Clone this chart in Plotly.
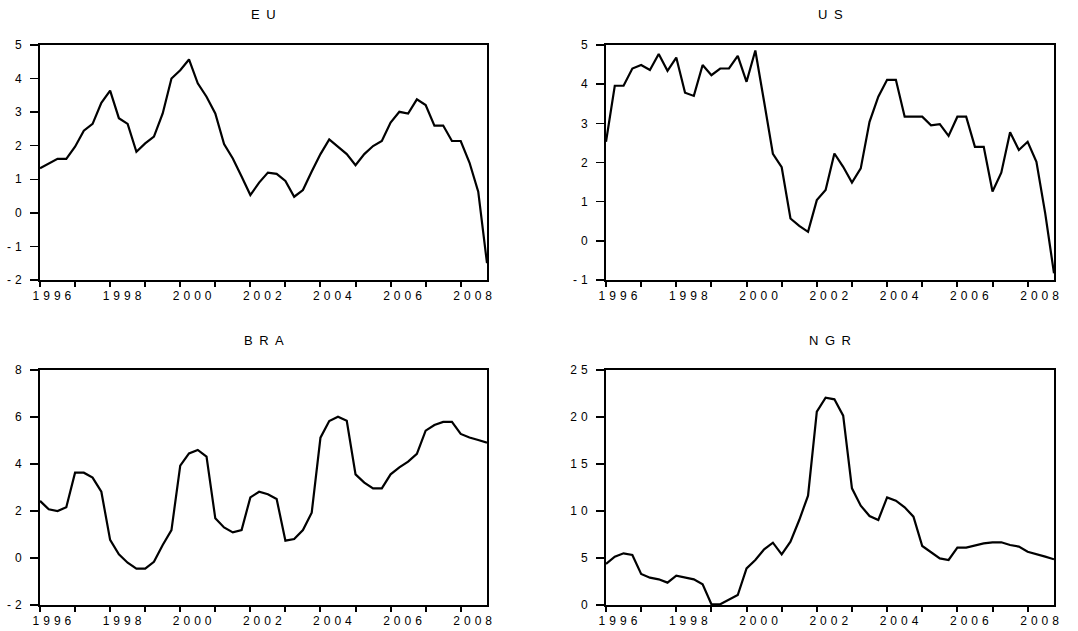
import plotly.graph_objects as go

# Quarterly observations 1996Q1 .. 2008Q4
years = [1996 + q / 4 for q in range(52)]

eu = [1.33, 1.47, 1.61, 1.61, 1.97, 2.45, 2.65, 3.28, 3.64, 2.82,
      2.65, 1.82, 2.07, 2.27, 2.96, 4.00, 4.25, 4.57, 3.86, 3.46,
      2.96, 2.05, 1.62, 1.08, 0.53, 0.90, 1.20, 1.16, 0.95, 0.48,
      0.68, 1.23, 1.75, 2.19, 1.97, 1.75, 1.42, 1.75, 1.99, 2.14,
      2.69, 3.01, 2.96, 3.38, 3.21, 2.60, 2.60, 2.14, 2.14, 1.50,
      0.63, -1.50]

us = [2.53, 3.96, 3.96, 4.40, 4.49, 4.36, 4.77, 4.34, 4.68, 3.78,
      3.70, 4.49, 4.23, 4.40, 4.40, 4.72, 4.06, 4.86, 3.55, 2.22,
      1.88, 0.57, 0.38, 0.23, 1.04, 1.30, 2.23, 1.89, 1.49, 1.85,
      3.04, 3.68, 4.11, 4.11, 3.17, 3.17, 3.17, 2.95, 2.98, 2.68,
      3.17, 3.17, 2.40, 2.40, 1.26, 1.74, 2.77, 2.32, 2.53, 2.02,
      0.70, -0.83]

bra = [2.43, 2.07, 2.00, 2.16, 3.63, 3.63, 3.42, 2.82, 0.77, 0.16,
       -0.20, -0.45, -0.45, -0.16, 0.55, 1.19, 3.93, 4.45, 4.60, 4.31,
       1.69, 1.30, 1.09, 1.19, 2.58, 2.82, 2.71, 2.51, 0.74, 0.81,
       1.19, 1.93, 5.12, 5.83, 6.01, 5.84, 3.56, 3.21, 2.96, 2.96,
       3.56, 3.86, 4.10, 4.43, 5.42, 5.66, 5.79, 5.79, 5.28, 5.13,
       5.02, 4.91]

ngr = [4.36, 5.14, 5.50, 5.32, 3.30, 2.91, 2.73, 2.38, 3.12, 2.91,
       2.73, 2.20, 0.08, 0.08, 0.53, 1.06, 3.90, 4.79, 5.92, 6.63,
       5.39, 6.74, 9.04, 11.63, 20.57, 22.06, 21.88, 20.14, 12.41, 10.57,
       9.47, 9.04, 11.45, 11.10, 10.39, 9.40, 6.28, 5.60, 4.96, 4.79,
       6.10, 6.10, 6.31, 6.56, 6.67, 6.67, 6.38, 6.21, 5.67, 5.43,
       5.14, 4.86]

titles = ["EU", "US", "BRA", "NGR"]
series = [eu, us, bra, ngr]
y_ranges = [(-2, 5, 1), (-1, 5, 1), (-2, 8, 2), (0, 25, 5)]
label_years = [1996, 1998, 2000, 2002, 2004, 2006, 2008]
mark_years = list(range(1996, 2009))

SP = "\u2004"  # letter spacing used in the original
TSP = "\u2002"


def spaced(s, sep=SP):
    return sep.join(list(s))


W, H = 1078, 631
x_domains = [(40, 487), (606, 1054)]
y_domains = [(45, 280), (370, 605)]  # top, bottom in pixels

fig = go.Figure()
font_family = "Liberation Sans, Arial, sans-serif"

for i, (name, vals, (y0, y1, dy)) in enumerate(zip(titles, series, y_ranges)):
    row, col = divmod(i, 2)
    n = i + 1
    xa = "x" if n == 1 else f"x{n}"
    ya = "y" if n == 1 else f"y{n}"
    fig.add_trace(go.Scatter(x=years, y=vals, mode="lines",
                             line=dict(color="black", width=2.2),
                             xaxis=xa, yaxis=ya, showlegend=False,
                             hoverinfo="skip"))
    xl, xr = x_domains[col]
    yt, yb = y_domains[row]
    xd = [xl / W, xr / W]
    yd = [1 - yb / H, 1 - yt / H]
    yticks = list(range(y0, y1 + 1, dy))
    fig.layout[f"xaxis{'' if n == 1 else n}"] = dict(
        domain=xd, anchor=ya, range=[1996, 2008.75], automargin=False,
        showline=True, mirror=True, linecolor="black", linewidth=2,
        showgrid=False, zeroline=False, fixedrange=True,
        tickmode="array", tickvals=[y + 0.34 for y in label_years],
        ticktext=[spaced(str(y)) for y in label_years],
        ticks="", ticklabelstandoff=4,
        tickfont=dict(family=font_family, size=12, color="black"),
        minor=dict(tickmode="array", tickvals=mark_years, ticks="outside",
                   ticklen=5, tickwidth=2, tickcolor="black", showgrid=False),
    )
    fig.layout[f"yaxis{'' if n == 1 else n}"] = dict(
        domain=yd, anchor=xa, range=[y0, y1], automargin=False,
        showline=True, mirror=True, linecolor="black", linewidth=2,
        showgrid=False, zeroline=False, fixedrange=True,
        tickmode="array", tickvals=yticks,
        ticktext=[spaced(str(v)) for v in yticks],
        ticks="outside", ticklen=8, tickwidth=1.5, tickcolor="black",
        ticklabelstandoff=6,
        tickfont=dict(family=font_family, size=12, color="black"),
    )
    fig.add_annotation(x=(xl + xr) / 2 / W, y=1 - (yt - 30) / H,
                       xref="paper", yref="paper", showarrow=False,
                       text=spaced(name, TSP), xanchor="center", yanchor="middle",
                       font=dict(family=font_family, size=13, color="black"))

fig.update_layout(width=W, height=H, autosize=False,
                  margin=dict(l=0, r=0, t=0, b=0, pad=0, autoexpand=False),
                  paper_bgcolor="white", plot_bgcolor="white")

fig.write_html(
    "out.html",
    config={"displayModeBar": False, "staticPlot": True},
    post_script=(
        "document.documentElement.style.margin='0';"
        "document.body.style.margin='0';"
        "document.documentElement.style.overflow='hidden';"
        "document.body.style.overflow='hidden';"
        "var gd=document.getElementById('{plot_id}');"
        "gd.style.position='fixed';gd.style.left='0px';gd.style.top='0px';"
    ),
)
